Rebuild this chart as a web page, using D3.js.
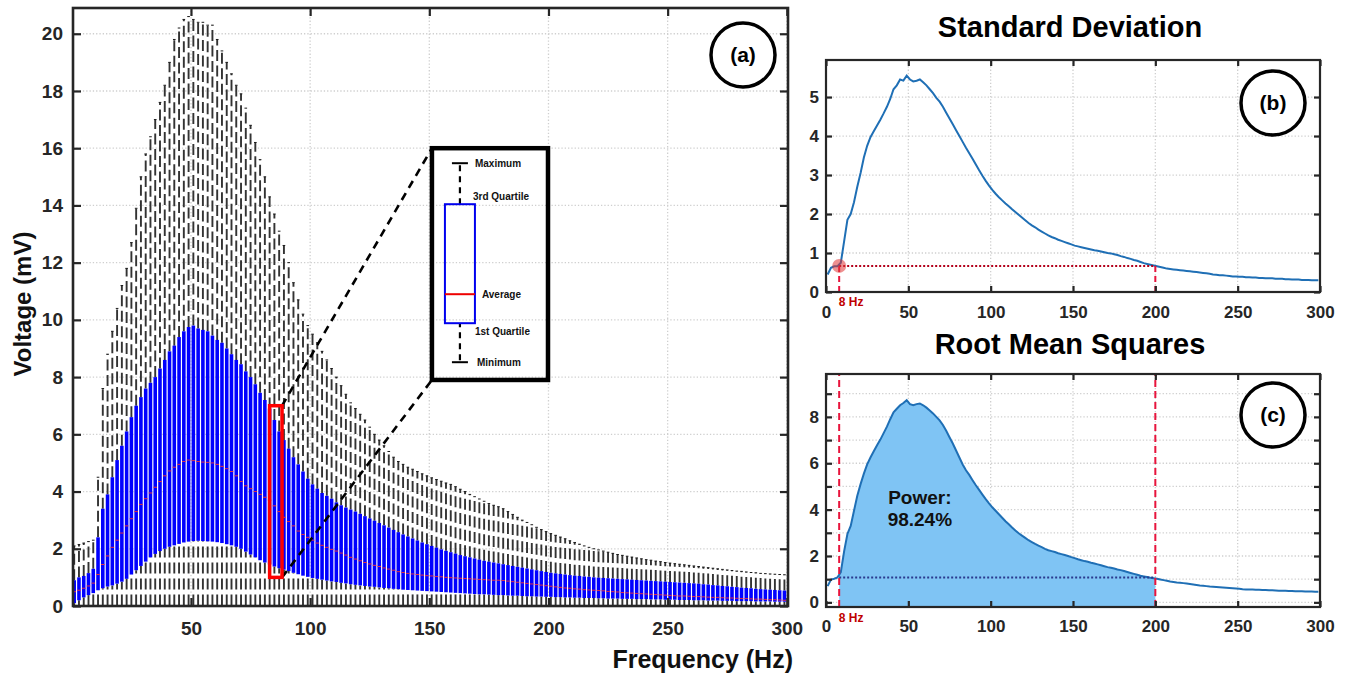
<!DOCTYPE html>
<html>
<head>
<meta charset="utf-8">
<script src="https://cdn.jsdelivr.net/npm/d3@7"></script>
<style>
  body { margin: 0; background: #fff; }
  text { font-family: "Liberation Sans", Arial, sans-serif; font-weight: bold; }
</style>
</head>
<body>
<script>
// frequency bins (Hz) used by every panel
const freqHz = [
  1,3,5,7,9,11,13,15,17,19,
  21,23,25,27,29,31,33,35,37,39,
  41,43,45,47,49,51,53,55,57,59,
  61,63,65,67,69,71,73,75,77,79,
  81,83,85,87,89,91,93,95,97,99,
  101,103,105,107,109,111,113,115,117,119,
  121,123,125,127,129,131,133,135,137,139,
  141,143,145,147,149,151,153,155,157,159,
  161,163,165,167,169,171,173,175,177,179,
  181,183,185,187,189,191,193,195,197,199,
  201,203,205,207,209,211,213,215,217,219,
  221,223,225,227,229,231,233,235,237,239,
  241,243,245,247,249,251,253,255,257,259,
  261,263,265,267,269,271,273,275,277,279,
  281,283,285,287,289,291,293,295,297,299
];

// box plot statistics, mV
const voltMin = [
  0.03,0.02,0.02,0.02,0.02,0.02,0.02,0.02,0.02,0.02,
  0.02,0.02,0.02,0.02,0.02,0.02,0.02,0.02,0.02,0.02,
  0.02,0.02,0.02,0.02,0.02,0.02,0.02,0.02,0.02,0.02,
  0.02,0.02,0.02,0.02,0.02,0.02,0.02,0.02,0.02,0.02,
  0.02,0.02,0.02,0.02,0.02,0.02,0.02,0.02,0.02,0.02,
  0.02,0.02,0.02,0.02,0.02,0.02,0.02,0.02,0.02,0.02,
  0.02,0.02,0.02,0.02,0.02,0.02,0.02,0.02,0.02,0.02,
  0.02,0.02,0.02,0.02,0.02,0.02,0.02,0.02,0.02,0.02,
  0.02,0.02,0.02,0.02,0.02,0.02,0.02,0.02,0.02,0.02,
  0.02,0.02,0.02,0.02,0.02,0.02,0.02,0.02,0.02,0.02,
  0.02,0.02,0.02,0.02,0.02,0.02,0.02,0.02,0.02,0.02,
  0.02,0.02,0.02,0.02,0.02,0.02,0.02,0.02,0.02,0.02,
  0.01,0.01,0.01,0.01,0.01,0.01,0.01,0.01,0.01,0.01,
  0.01,0.01,0.01,0.01,0.01,0.01,0.01,0.01,0.01,0.01,
  0.01,0.01,0.01,0.01,0.01,0.01,0.01,0.01,0.01,0.01
];
const voltQ1 = [
  0.1,0.2,0.3,0.38,0.45,0.55,0.62,0.68,0.72,0.78,
  0.85,0.95,1.1,1.25,1.4,1.55,1.7,1.82,1.92,2.0,
  2.07,2.12,2.17,2.22,2.25,2.27,2.28,2.27,2.26,2.25,
  2.23,2.2,2.16,2.12,2.07,2.0,1.9,1.8,1.7,1.6,
  1.52,1.45,1.38,1.32,1.27,1.22,1.16,1.11,1.06,1.02,
  0.98,0.95,0.92,0.89,0.86,0.84,0.81,0.79,0.76,0.74,
  0.72,0.7,0.68,0.67,0.65,0.63,0.62,0.6,0.59,0.57,
  0.56,0.55,0.54,0.53,0.52,0.51,0.5,0.49,0.48,0.47,
  0.46,0.45,0.44,0.43,0.42,0.41,0.41,0.4,0.39,0.38,
  0.38,0.37,0.36,0.36,0.35,0.34,0.34,0.33,0.33,0.32,
  0.32,0.31,0.31,0.3,0.3,0.29,0.29,0.28,0.28,0.28,
  0.27,0.27,0.26,0.26,0.26,0.25,0.25,0.25,0.24,0.24,
  0.24,0.23,0.23,0.23,0.22,0.22,0.22,0.21,0.21,0.21,
  0.2,0.2,0.2,0.19,0.19,0.19,0.18,0.18,0.18,0.17,
  0.17,0.17,0.17,0.16,0.16,0.16,0.16,0.15,0.15,0.15
];
const voltMean = [
  0.5,0.55,0.62,0.7,0.8,1.1,1.45,1.75,2.05,2.3,
  2.55,2.8,3.05,3.3,3.55,3.75,3.95,4.15,4.35,4.55,
  4.72,4.85,4.95,5.05,5.1,5.08,5.05,5.03,5.02,5.0,
  4.95,4.88,4.8,4.7,4.55,4.35,4.2,4.1,4.0,3.9,
  3.8,3.7,3.5,3.3,3.1,2.95,2.8,2.62,2.5,2.4,
  2.3,2.2,2.12,2.05,1.98,1.92,1.85,1.78,1.7,1.64,
  1.58,1.52,1.47,1.42,1.38,1.33,1.29,1.25,1.2,1.17,
  1.14,1.12,1.1,1.08,1.06,1.05,1.03,1.02,1.0,0.99,
  0.98,0.97,0.96,0.95,0.94,0.93,0.92,0.91,0.9,0.9,
  0.89,0.87,0.85,0.83,0.81,0.79,0.77,0.75,0.73,0.71,
  0.69,0.67,0.65,0.63,0.62,0.6,0.59,0.57,0.56,0.55,
  0.54,0.53,0.51,0.5,0.49,0.47,0.46,0.45,0.44,0.43,
  0.42,0.41,0.4,0.39,0.38,0.37,0.36,0.35,0.35,0.34,
  0.33,0.33,0.32,0.31,0.3,0.3,0.29,0.28,0.28,0.27,
  0.26,0.26,0.25,0.24,0.24,0.23,0.22,0.22,0.21,0.2
];
const voltQ3 = [
  0.9,1.0,1.05,1.15,1.3,2.4,3.4,3.9,4.5,5.1,
  5.6,6.1,6.6,7.0,7.3,7.6,7.8,8.0,8.3,8.6,
  8.9,9.1,9.4,9.6,9.75,9.8,9.7,9.65,9.6,9.45,
  9.3,9.2,9.0,8.8,8.6,8.45,8.2,8.0,7.75,7.45,
  7.2,6.9,6.5,6.1,5.8,5.5,5.2,4.95,4.7,4.45,
  4.25,4.1,3.95,3.85,3.75,3.62,3.52,3.44,3.37,3.3,
  3.22,3.14,3.06,2.98,2.9,2.82,2.74,2.66,2.58,2.5,
  2.43,2.36,2.29,2.22,2.16,2.1,2.04,1.98,1.93,1.88,
  1.83,1.78,1.74,1.7,1.66,1.62,1.58,1.55,1.52,1.49,
  1.46,1.43,1.4,1.37,1.34,1.31,1.28,1.25,1.22,1.19,
  1.16,1.14,1.12,1.1,1.08,1.06,1.05,1.03,1.02,1.0,
  0.99,0.98,0.97,0.96,0.95,0.94,0.93,0.92,0.91,0.9,
  0.89,0.88,0.87,0.86,0.85,0.84,0.83,0.82,0.81,0.8,
  0.79,0.78,0.76,0.75,0.73,0.72,0.7,0.69,0.67,0.66,
  0.64,0.63,0.62,0.6,0.59,0.58,0.57,0.56,0.55,0.54
];
const voltMax = [
  2.1,2.15,2.2,2.25,2.3,4.5,7.6,8.8,9.6,10.4,
  11.2,11.8,12.7,13.9,15.0,15.8,16.4,17.0,17.6,18.2,
  19.0,19.8,20.2,20.5,20.6,20.5,20.4,20.4,20.3,20.3,
  19.8,19.4,19.0,18.6,18.2,17.9,17.4,16.8,16.2,15.6,
  15.0,14.3,13.7,13.1,12.6,12.0,11.3,10.7,10.2,9.8,
  9.5,9.2,8.9,8.6,8.3,8.0,7.7,7.4,7.1,6.9,
  6.7,6.5,6.25,6.0,5.8,5.6,5.4,5.2,5.05,4.95,
  4.85,4.78,4.7,4.62,4.55,4.48,4.42,4.36,4.3,4.25,
  4.17,4.08,4.0,3.9,3.82,3.74,3.66,3.58,3.52,3.47,
  3.4,3.3,3.2,3.1,3.0,2.92,2.84,2.75,2.67,2.6,
  2.53,2.47,2.41,2.35,2.28,2.22,2.16,2.1,2.05,2.0,
  1.96,1.92,1.88,1.84,1.8,1.77,1.74,1.71,1.68,1.65,
  1.62,1.6,1.57,1.55,1.52,1.5,1.48,1.46,1.44,1.42,
  1.4,1.38,1.36,1.34,1.32,1.3,1.28,1.26,1.24,1.22,
  1.21,1.19,1.17,1.16,1.14,1.13,1.12,1.11,1.1,1.09
];

// standard deviation and RMS per frequency, mV
const stdDev = [
  0.45,0.62,0.66,0.66,0.75,1.3,1.85,2.0,2.3,2.7,
  3.05,3.45,3.75,3.97,4.12,4.27,4.42,4.58,4.75,4.95,
  5.2,5.3,5.45,5.42,5.55,5.45,5.4,5.42,5.45,5.38,
  5.3,5.2,5.1,4.98,4.88,4.75,4.6,4.45,4.3,4.15,
  4.0,3.85,3.7,3.56,3.42,3.27,3.12,2.98,2.85,2.73,
  2.62,2.52,2.43,2.35,2.27,2.2,2.12,2.05,1.98,1.91,
  1.84,1.77,1.71,1.66,1.6,1.55,1.5,1.45,1.41,1.38,
  1.34,1.31,1.28,1.25,1.22,1.19,1.17,1.15,1.13,1.11,
  1.09,1.07,1.06,1.04,1.02,1.0,0.99,0.97,0.95,0.92,
  0.9,0.87,0.85,0.82,0.8,0.77,0.74,0.72,0.7,0.68,
  0.66,0.64,0.62,0.6,0.59,0.58,0.57,0.56,0.55,0.54,
  0.53,0.52,0.51,0.5,0.49,0.48,0.47,0.45,0.44,0.43,
  0.43,0.42,0.41,0.4,0.4,0.39,0.39,0.38,0.38,0.37,
  0.37,0.36,0.36,0.35,0.35,0.35,0.34,0.34,0.34,0.33,
  0.33,0.32,0.32,0.32,0.31,0.31,0.31,0.3,0.3,0.3
];
const rmsVal = [
  0.7,0.98,1.02,1.08,1.3,2.2,2.95,3.3,3.95,4.6,
  5.1,5.55,5.95,6.25,6.52,6.78,7.02,7.3,7.58,7.9,
  8.2,8.35,8.5,8.6,8.72,8.55,8.5,8.55,8.58,8.5,
  8.4,8.28,8.15,8.0,7.85,7.65,7.4,7.12,6.85,6.55,
  6.25,5.95,5.7,5.5,5.27,5.05,4.85,4.65,4.45,4.27,
  4.1,3.95,3.8,3.65,3.5,3.37,3.23,3.1,2.98,2.88,
  2.78,2.68,2.6,2.52,2.45,2.38,2.31,2.25,2.21,2.17,
  2.12,2.08,2.04,2.0,1.95,1.91,1.86,1.82,1.78,1.75,
  1.71,1.68,1.64,1.6,1.56,1.52,1.49,1.46,1.42,1.39,
  1.35,1.31,1.27,1.23,1.19,1.15,1.12,1.09,1.06,1.04,
  1.02,0.99,0.96,0.93,0.9,0.88,0.86,0.85,0.83,0.81,
  0.79,0.77,0.75,0.73,0.72,0.7,0.68,0.67,0.66,0.65,
  0.64,0.63,0.62,0.61,0.6,0.59,0.57,0.56,0.55,0.55,
  0.54,0.54,0.53,0.53,0.52,0.52,0.51,0.5,0.5,0.5,
  0.49,0.49,0.48,0.48,0.48,0.47,0.47,0.47,0.46,0.46
];

// band limits and annotation values
const cutLow = 8, cutHigh = 200;
const stdAtCut = 0.67, rmsAtCut = 1.07;
const powerLines = ["Power:", "98.24%"];
const cutLabel = "8 Hz";
const legendLabels = ["Maximum", "3rd Quartile", "Average", "1st Quartile", "Minimum"];

// ticks
const xTicksA = [50, 100, 150, 200, 250, 300];
const yTicksA = [0, 2, 4, 6, 8, 10, 12, 14, 16, 18, 20];
const xTicksBC = [0, 50, 100, 150, 200, 250, 300];
const yTicksB = [0, 1, 2, 3, 4, 5];
const yTicksC = [0, 1, 2, 3, 4, 5, 6, 7, 8, 9];

const svg = d3.select("body").append("svg")
  .attr("width", 1348).attr("height", 678)
  .style("background", "#fff");

const ink = "#262626";

function drawGrid(g, x, y, xt, yt) {
  const [xl, xr] = x.range(), [yb, ytop] = y.range();
  g.append("g").selectAll("line").data(xt).join("line")
    .attr("x1", d => x(d)).attr("x2", d => x(d))
    .attr("y1", yb).attr("y2", ytop);
  g.append("g").selectAll("line").data(yt).join("line")
    .attr("x1", xl).attr("x2", xr)
    .attr("y1", d => y(d)).attr("y2", d => y(d));
  g.selectAll("line")
    .attr("stroke", "#cfcfcf").attr("stroke-width", 1.3)
    .attr("stroke-dasharray", "1.3,2");
}

function drawFrame(g, x, y, xt, yt, tick, fs, yFmt, padX, padY, lw) {
  const [xl, xr] = x.range(), [yb, ytop] = y.range();
  const tidy = sel => {
    sel.select(".domain").remove();
    sel.selectAll(".tick line").attr("stroke", ink).attr("stroke-width", 2.2);
    sel.selectAll(".tick text").attr("fill", ink).attr("font-size", fs);
  };
  g.append("g").attr("transform", `translate(0,${yb})`)
    .call(d3.axisBottom(x).tickValues(xt).tickSize(-tick).tickPadding(padX)).call(tidy);
  g.append("g").attr("transform", `translate(0,${ytop})`)
    .call(d3.axisTop(x).tickValues(xt).tickSize(-tick).tickFormat("")).call(tidy);
  g.append("g").attr("transform", `translate(${xl},0)`)
    .call(d3.axisLeft(y).tickValues(yt).tickSize(-tick).tickPadding(padY).tickFormat(yFmt)).call(tidy);
  g.append("g").attr("transform", `translate(${xr},0)`)
    .call(d3.axisRight(y).tickValues(yt).tickSize(-tick).tickFormat("")).call(tidy);
  g.append("rect")
    .attr("x", xl).attr("y", ytop).attr("width", xr - xl).attr("height", yb - ytop)
    .attr("fill", "none").attr("stroke", ink).attr("stroke-width", lw);
}

function badge(cx, cy, label) {
  svg.append("circle").attr("cx", cx).attr("cy", cy).attr("r", 32)
    .attr("fill", "#fff").attr("stroke", "#000").attr("stroke-width", 3.5);
  svg.append("text").attr("x", cx).attr("y", cy + 7).attr("text-anchor", "middle")
    .attr("font-size", 21).attr("fill", "#000").text(label);
}

// ---------- (a) box plots ----------
const xA = d3.scaleLinear().domain([0.5, 300.5]).range([73, 788]);
const yA = d3.scaleLinear().domain([0, 20.9]).range([606, 8]);

const gA = svg.append("g");
drawGrid(gA, xA, yA, xTicksA, yTicksA.filter(d => d > 0));

svg.append("clipPath").attr("id", "clipA").append("rect")
  .attr("x", 73).attr("y", 8).attr("width", 715).attr("height", 598);
const plotA = gA.append("g").attr("clip-path", "url(#clipA)");

const boxes = freqHz.map((f, i) => ({
  f: f, mn: voltMin[i], q1: voltQ1[i], av: voltMean[i], q3: voltQ3[i], mx: voltMax[i]
}));
const bw = xA(1.5) - xA(0);
const cw = xA(1.1) - xA(0);

plotA.append("g").selectAll("path").data(boxes).join("path")
  .attr("d", d => `M${xA(d.f)},${yA(d.q3)}L${xA(d.f)},${yA(d.mx)}`)
  .attr("stroke", "#333").attr("stroke-width", 1.9)
  .attr("stroke-dasharray", "11,4.5").attr("fill", "none");
plotA.append("g").selectAll("path").data(boxes).join("path")
  .attr("d", d => `M${xA(d.f)},${yA(d.mn)}L${xA(d.f)},${yA(d.q1)}`)
  .attr("stroke", "#333").attr("stroke-width", 1.9)
  .attr("stroke-dasharray", "11,5").attr("fill", "none");
plotA.append("g").selectAll("line").data(boxes).join("line")
  .attr("x1", d => xA(d.f) - cw / 2).attr("x2", d => xA(d.f) + cw / 2)
  .attr("y1", d => yA(d.mx)).attr("y2", d => yA(d.mx))
  .attr("stroke", "#1a1a1a").attr("stroke-width", 1);
plotA.append("g").selectAll("rect").data(boxes).join("rect")
  .attr("x", d => xA(d.f) - bw / 2).attr("width", bw)
  .attr("y", d => yA(d.q3)).attr("height", d => yA(d.q1) - yA(d.q3))
  .attr("fill", "#0000ff");
plotA.append("g").selectAll("line").data(boxes).join("line")
  .attr("x1", d => xA(d.f) - bw / 2).attr("x2", d => xA(d.f) + bw / 2)
  .attr("y1", d => yA(d.av)).attr("y2", d => yA(d.av))
  .attr("stroke", "#e0304a").attr("stroke-width", 1);

drawFrame(gA, xA, yA, xTicksA, yTicksA, 8, 19, d => d, 16, 10, 2.6);

svg.append("text").attr("x", 793).attr("y", 668).attr("text-anchor", "end")
  .attr("font-size", 25).attr("fill", "#111").text("Frequency (Hz)");
svg.append("text").attr("transform", "translate(31,304) rotate(-90)")
  .attr("text-anchor", "middle").attr("font-size", 24).attr("fill", "#111")
  .text("Voltage (mV)");

// highlighted box, zoom-in legend and connectors
const zoomBox = { f0: 83, f1: 88.2, v0: 1.0, v1: 7.0 };
const inset = { f0: 151.1, f1: 199.8, v0: 7.9, v1: 16.0 };

svg.append("g").selectAll("line").data([[zoomBox.v1, inset.v1], [zoomBox.v0, inset.v0]]).join("line")
  .attr("x1", xA(zoomBox.f1)).attr("y1", d => yA(d[0]))
  .attr("x2", xA(inset.f0)).attr("y2", d => yA(d[1]))
  .attr("stroke", "#000").attr("stroke-width", 2.6).attr("stroke-dasharray", "8,6");

svg.append("rect")
  .attr("x", xA(zoomBox.f0)).attr("y", yA(zoomBox.v1))
  .attr("width", xA(zoomBox.f1) - xA(zoomBox.f0)).attr("height", yA(zoomBox.v0) - yA(zoomBox.v1))
  .attr("fill", "none").attr("stroke", "#ff0000").attr("stroke-width", 3.5);

const lx = xA(inset.f0), ly = yA(inset.v1);
const lg = svg.append("g").attr("transform", `translate(${lx},${ly})`);
lg.append("rect").attr("width", xA(inset.f1) - lx).attr("height", yA(inset.v0) - ly)
  .attr("fill", "none").attr("stroke", "#000").attr("stroke-width", 4.5);
lg.append("line").attr("x1", 20).attr("x2", 36).attr("y1", 15).attr("y2", 15)
  .attr("stroke", "#000").attr("stroke-width", 2);
lg.append("line").attr("x1", 20).attr("x2", 36).attr("y1", 214).attr("y2", 214)
  .attr("stroke", "#000").attr("stroke-width", 2);
lg.append("line").attr("x1", 28).attr("x2", 28).attr("y1", 17).attr("y2", 56)
  .attr("stroke", "#000").attr("stroke-width", 2.2).attr("stroke-dasharray", "6,5");
lg.append("line").attr("x1", 28).attr("x2", 28).attr("y1", 212).attr("y2", 175)
  .attr("stroke", "#000").attr("stroke-width", 2.2).attr("stroke-dasharray", "6,5");
lg.append("rect").attr("x", 13).attr("y", 56).attr("width", 30).attr("height", 119)
  .attr("fill", "none").attr("stroke", "#0000ee").attr("stroke-width", 2);
lg.append("line").attr("x1", 13).attr("x2", 43).attr("y1", 146).attr("y2", 146)
  .attr("stroke", "#ee0000").attr("stroke-width", 2);
const legPos = [[43, 15], [41, 48], [50, 146], [43, 183], [45, 214]];
lg.selectAll("text.lab").data(legendLabels).join("text")
  .attr("class", "lab")
  .attr("x", (d, i) => legPos[i][0]).attr("y", (d, i) => legPos[i][1] + 3.5)
  .attr("font-size", 10).attr("fill", "#111").text(d => d);

badge(743, 55, "(a)");

// ---------- (b) standard deviation ----------
const xB = d3.scaleLinear().domain([0, 300]).range([826, 1320]);
const yB = d3.scaleLinear().domain([0, 5.95]).range([292, 60]);
const gB = svg.append("g");
drawGrid(gB, xB, yB, xTicksBC.slice(1, -1), yTicksB.slice(1));

const stdPts = freqHz.map((f, i) => ({ f: f, v: stdDev[i] }));
gB.append("path").datum(stdPts)
  .attr("d", d3.line().x(d => xB(d.f)).y(d => yB(d.v)))
  .attr("fill", "none").attr("stroke", "#1f6fb5").attr("stroke-width", 2);

gB.append("line").attr("x1", xB(cutLow)).attr("x2", xB(cutHigh))
  .attr("y1", yB(stdAtCut)).attr("y2", yB(stdAtCut))
  .attr("stroke", "#b3001b").attr("stroke-width", 2).attr("stroke-dasharray", "2,2");
gB.append("g").selectAll("line").data([cutLow, cutHigh]).join("line")
  .attr("x1", d => xB(d)).attr("x2", d => xB(d))
  .attr("y1", yB(stdAtCut)).attr("y2", yB(0))
  .attr("stroke", "#e8143c").attr("stroke-width", 2).attr("stroke-dasharray", "6,4");
gB.append("circle").attr("cx", xB(cutLow)).attr("cy", yB(stdAtCut)).attr("r", 7)
  .attr("fill", "#e03535").attr("fill-opacity", 0.55);

drawFrame(gB, xB, yB, xTicksBC, yTicksB, 6, 17, d => d, 14, 7, 2.2);
svg.append("text").attr("x", xB(cutLow) + 12).attr("y", 306).attr("text-anchor", "middle")
  .attr("font-size", 12).attr("fill", "#c00000").text(cutLabel);

svg.append("text").attr("x", 1070).attr("y", 37).attr("text-anchor", "middle")
  .attr("font-size", 29).attr("fill", "#000").text("Standard Deviation");
badge(1273, 103, "(b)");

// ---------- (c) root mean squares ----------
const xC = d3.scaleLinear().domain([0, 300]).range([826, 1320]);
const yC = d3.scaleLinear().domain([-0.2, 9.85]).range([607, 374]);
const gC = svg.append("g");
drawGrid(gC, xC, yC, xTicksBC.slice(1, -1), yTicksC);

const rmsPts = freqHz.map((f, i) => ({ f: f, v: rmsVal[i] }));
svg.append("clipPath").attr("id", "clipBand").append("rect")
  .attr("x", xC(cutLow)).attr("y", yC.range()[1])
  .attr("width", xC(cutHigh) - xC(cutLow)).attr("height", yC.range()[0] - yC.range()[1]);
gC.append("path").datum(rmsPts).attr("clip-path", "url(#clipBand)")
  .attr("d", d3.area().x(d => xC(d.f)).y0(yC(yC.domain()[0])).y1(d => yC(d.v)))
  .attr("fill", "#7fc4f4");
gC.append("path").datum(rmsPts)
  .attr("d", d3.line().x(d => xC(d.f)).y(d => yC(d.v)))
  .attr("fill", "none").attr("stroke", "#1f6fb5").attr("stroke-width", 2);

gC.append("line").attr("x1", xC(cutLow)).attr("x2", xC(cutHigh))
  .attr("y1", yC(rmsAtCut)).attr("y2", yC(rmsAtCut))
  .attr("stroke", "#2a3a8f").attr("stroke-width", 2).attr("stroke-dasharray", "2,2");
gC.append("g").selectAll("line").data([cutLow, cutHigh]).join("line")
  .attr("x1", d => xC(d)).attr("x2", d => xC(d))
  .attr("y1", yC.range()[0]).attr("y2", yC.range()[1])
  .attr("stroke", "#e8143c").attr("stroke-width", 2).attr("stroke-dasharray", "7,4");

drawFrame(gC, xC, yC, xTicksBC, yTicksC, 6, 17, d => (d % 2 === 0 ? d : ""), 13, 7, 2.2);
svg.append("text").attr("x", xC(cutLow) + 12).attr("y", 622).attr("text-anchor", "middle")
  .attr("font-size", 12).attr("fill", "#c00000").text(cutLabel);

svg.append("g").selectAll("text").data(powerLines).join("text")
  .attr("x", xC(57)).attr("y", (d, i) => 504 + i * 22).attr("text-anchor", "middle")
  .attr("font-size", 19).attr("fill", "#111").text(d => d);

svg.append("text").attr("x", 1070).attr("y", 354).attr("text-anchor", "middle")
  .attr("font-size", 29).attr("fill", "#000").text("Root Mean Squares");
badge(1273, 415, "(c)");
</script>
</body>
</html>
